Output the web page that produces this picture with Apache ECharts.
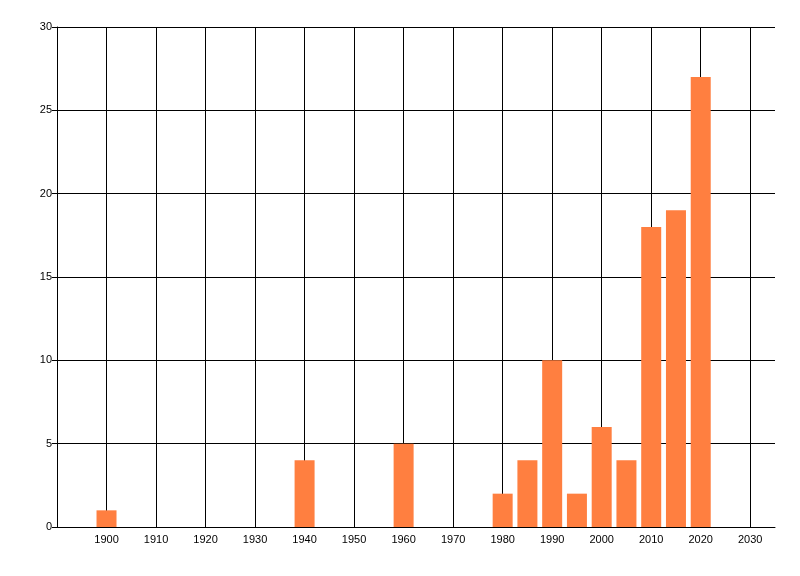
<!DOCTYPE html>
<html>
<head>
<meta charset="utf-8">
<script src="https://cdn.jsdelivr.net/npm/echarts@6/dist/echarts.min.js"></script>
<style>
html, body { margin: 0; padding: 0; background: #fff; }
#main { width: 800px; height: 576px; }
</style>
</head>
<body>
<div id="main"></div>
<script>
// data
var years = [1900, 1940, 1960, 1980, 1985, 1990, 1995, 2000, 2005, 2010, 2015, 2020];
var counts = [1, 4, 5, 2, 4, 10, 2, 6, 4, 18, 19, 27];

var seriesData = [];
for (var i = 0; i < years.length; i++) {
    seriesData.push([years[i], counts[i]]);
}

// vertical grid: one per tick 1890..2030 then 2035 (right edge, hidden)
var vColors = [];
for (var k = 0; k < 15; k++) vColors.push('#000');
vColors.push('rgba(0,0,0,0)');

var myChart = echarts.init(document.getElementById('main'));

var option = {
    animation: false,
    grid: { left: 57, right: 25, top: 27, bottom: 49, containLabel: false },
    xAxis: {
        type: 'value',
        min: 1890,
        max: 2035,
        interval: 10,
        axisLine: { show: true, lineStyle: { color: '#000', width: 1 } },
        axisTick: { show: false },
        axisLabel: {
            color: '#000',
            fontFamily: 'Liberation Sans',
            fontSize: 11,
            margin: 7,
            formatter: function (v) {
                if (v === 1890 || v === 2035) return '';
                return String(v);
            }
        },
        splitLine: { show: true, lineStyle: { color: vColors, width: 1 } }
    },
    yAxis: {
        type: 'value',
        min: 0,
        max: 30,
        interval: 5,
        axisLine: { show: true, lineStyle: { color: '#000', width: 1 } },
        axisTick: { show: true, length: 5, lineStyle: { color: '#000' } },
        axisLabel: {
            color: '#000',
            fontFamily: 'Liberation Sans',
            fontSize: 11,
            margin: 5
        },
        splitLine: { show: true, lineStyle: { color: '#000', width: 1 } }
    },
    series: [
        {
            type: 'bar',
            data: seriesData,
            barWidth: 20,
            itemStyle: { color: '#ff7f40' }
        }
    ]
};

myChart.setOption(option);
</script>
</body>
</html>
